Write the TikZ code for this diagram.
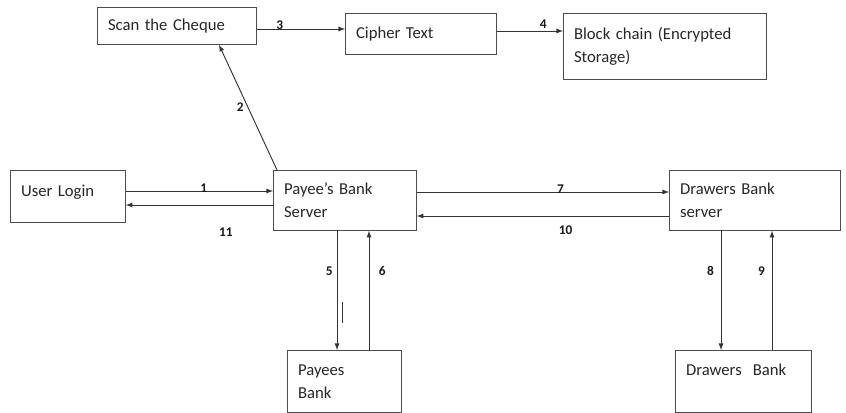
\documentclass[tikz,border=0pt]{standalone}
\usepackage{fontspec}
\setmainfont{Carlito}
\begin{document}
\begin{tikzpicture}[x=0.75pt, y=-0.75pt, >=latex]
                \tikzset{
                    box/.style={rectangle, draw=black!70, line width=0.6pt, anchor=north west, align=left,
                                inner xsep=8pt, inner ysep=2pt, text=black!85,
                                font=\fontsize{12.5}{17}\selectfont},
                    num/.style={font=\fontsize{10}{11}\selectfont\bfseries, inner sep=0pt, text=black!90},
                    link/.style={->, line width=0.7pt, draw=black!80}
                }
                \useasboundingbox (0,0) rectangle (846,413);
                % boxes
                \node[box, text width=103.25pt, minimum height=27.75pt] (scan)   at (97,7)   {Scan the Cheque};
                \node[box, text width=97.25pt,  minimum height=30.75pt] (cipher) at (345,13) {Cipher Text};
                \node[box, text width=136.25pt, minimum height=49.5pt]  (chain)  at (563,13) {Block chain (Encrypted\\Storage)};
                \node[box, text width=70.25pt,  minimum height=39pt]    (login)  at (10,170) {User Login\\[-9pt]~};
                \node[box, text width=91.25pt,  minimum height=45pt]    (payee)  at (273,170) {Payee’s Bank\\Server};
                \node[box, text width=112.25pt, minimum height=45pt]    (drawer) at (669,170) {Drawers Bank\\server};
                \node[box, text width=69.5pt,   minimum height=46.5pt]  (pbank)  at (287,350) {Payees\\Bank};
                \node[box, text width=86pt,     minimum height=46.5pt]  (dbank)  at (675,350) {Drawers\ \ Bank\\~};
                % links
                \draw[link] (login.east |- 0,191) -- node[num, pos=0.53, yshift=2pt]{1} (payee.west |- 0,191);
                \draw[link] ([xshift=3pt]payee.north west) -- node[num, pos=0.5, left=3pt]{2} (scan.south -| 219,0);
                \draw[link] (scan.east |- 0,29) -- node[num, pos=0.26, yshift=3pt]{3} (cipher.west |- 0,29);
                \draw[link] (cipher.east |- 0,31) -- node[num, pos=0.7, yshift=5pt]{4} (chain.west |- 0,31);
                \draw[link] (payee.east |- 0,192) -- node[num, pos=0.57, yshift=2pt]{7} (drawer.west |- 0,192);
                \draw[link] (payee.south -| 337,0) -- node[num, pos=0.34, left=3pt]{5} (pbank.north -| 337,0);
                \draw[link] (pbank.north -| 369,0) -- node[num, pos=0.66, right=7pt]{6} (payee.south -| 369,0);
                \draw[link] (drawer.south -| 721,0) -- node[num, pos=0.34, left=5pt]{8} (dbank.north -| 721,0);
                \draw[link] (dbank.north -| 772,0) -- node[num, pos=0.66, left=5pt]{9} (drawer.south -| 772,0);
                \draw[link] (drawer.west |- 0,216) -- node[num, pos=0.41, below=7pt]{10} (payee.east |- 0,216);
                \draw[link] (payee.west |- 0,205) -- node[num, pos=0.32, below=17pt]{11} (login.east |- 0,205);
                \draw[line width=0.6pt, black!80] (342,302) -- (342,323);
            \end{tikzpicture}
\end{document}
